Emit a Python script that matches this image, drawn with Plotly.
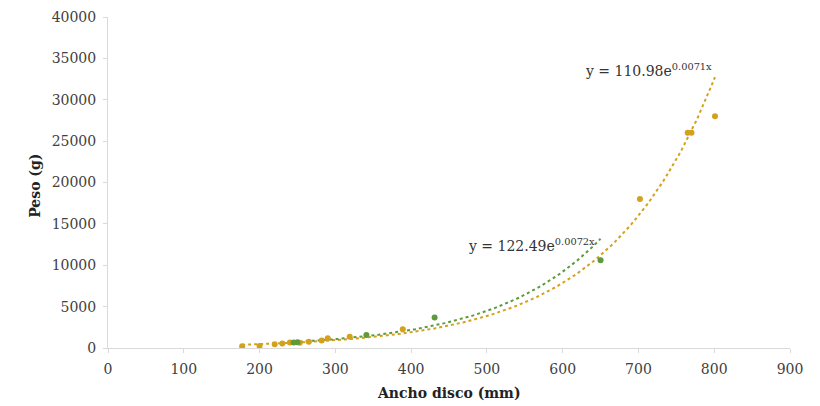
import numpy as np
import plotly.graph_objects as go

# Orange series (data points)
orange_x = [177, 200, 220, 230, 240, 253, 265, 282, 290, 319, 389, 702, 765, 770, 801]
orange_y = [200, 250, 450, 550, 650, 640, 750, 900, 1170, 1360, 2260, 18000, 26000, 26000, 28000]
# Green series
green_x = [245, 250, 341, 431, 650]
green_y = [650, 700, 1570, 3700, 10600]

# Exponential trendline coefficients shown on the chart
orange_a, orange_b = 110.98, 0.0071
green_a, green_b = 122.49, 0.0072

x_ticks = [0, 100, 200, 300, 400, 500, 600, 700, 800, 900]
y_ticks = [0, 5000, 10000, 15000, 20000, 25000, 30000, 35000, 40000]

ORANGE = "#D4A11E"
GREEN = "#5E9A3A"
FONT = "DejaVu Serif"

W, H = 820, 406
ML, MR, MT, MB = 100, 38, 9, 66
PW = W - ML - MR
PH = H - MT - MB

ox = np.linspace(min(orange_x), max(orange_x), 200)
gx = np.linspace(min(green_x), max(green_x), 200)

fig = go.Figure()
fig.add_trace(go.Scatter(x=ox, y=orange_a * np.exp(orange_b * ox), mode="lines",
                         line=dict(color=ORANGE, width=2, dash="dot"), hoverinfo="skip"))
fig.add_trace(go.Scatter(x=gx, y=green_a * np.exp(green_b * gx), mode="lines",
                         line=dict(color=GREEN, width=2, dash="dot"), hoverinfo="skip"))
fig.add_trace(go.Scatter(x=orange_x, y=orange_y, mode="markers",
                         marker=dict(color=ORANGE, size=6)))
fig.add_trace(go.Scatter(x=green_x, y=green_y, mode="markers",
                         marker=dict(color=GREEN, size=6)))

fig.add_annotation(x=800, y=33600, xref="x", yref="y", xanchor="right", yanchor="middle",
                   text="y = 110.98e<sup>0.0071x</sup>", showarrow=False,
                   font=dict(family=FONT, size=14, color="#333333"))
fig.add_annotation(x=645, y=12400, xref="x", yref="y", xanchor="right", yanchor="middle",
                   text="y = 122.49e<sup>0.0072x</sup>", showarrow=False,
                   font=dict(family=FONT, size=14, color="#333333"))

# Axis titles (positioned in paper units)
fig.add_annotation(x=450, y=-(385 - (MT + PH)) / PH, xref="x", yref="paper",
                   xanchor="center", yanchor="middle",
                   text="<b>Ancho disco (mm)</b>", showarrow=False,
                   font=dict(family=FONT, size=14, color="#222222"))
fig.add_annotation(x=(27 - ML) / PW, y=0.49, xref="paper", yref="paper",
                   xanchor="center", yanchor="middle",
                   text="<b>Peso (g)</b>", showarrow=False, textangle=-90,
                   font=dict(family=FONT, size=14, color="#222222"))

fig.update_layout(
    width=W, height=H,
    margin=dict(l=ML, r=MR, t=MT, b=MB, autoexpand=False),
    paper_bgcolor="white", plot_bgcolor="white",
    showlegend=False,
    font=dict(family=FONT, size=14, color="#404040"),
)
fig.update_xaxes(range=[0, 900], tickvals=x_ticks, ticktext=[str(v) for v in x_ticks],
                 showgrid=False, zeroline=False, showline=True, linecolor="#D9D9D9", linewidth=1,
                 ticks="outside", ticklen=4, tickcolor="#D9D9D9", automargin=False,
                 ticklabelstandoff=4)
fig.update_yaxes(range=[0, 40000], tickvals=y_ticks, ticktext=[str(v) for v in y_ticks],
                 showgrid=False, zeroline=False, showline=True, linecolor="#D9D9D9", linewidth=1,
                 ticks="outside", ticklen=4, tickcolor="#D9D9D9", automargin=False,
                 ticklabelstandoff=4)

fig.write_html("out.html")
